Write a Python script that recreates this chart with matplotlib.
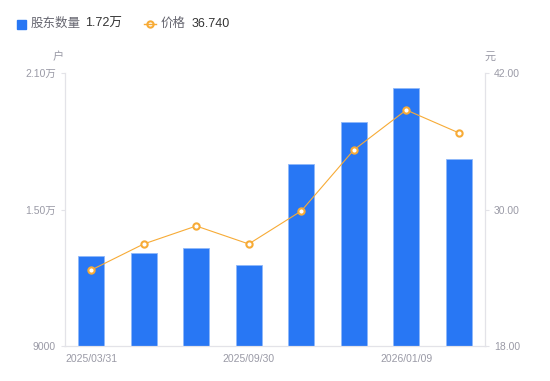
import matplotlib.pyplot as plt
from matplotlib.lines import Line2D

plt.rcParams["font.family"] = ["Liberation Sans", "Noto Sans CJK SC", "DejaVu Sans"]
plt.rcParams["axes.unicode_minus"] = False

# 数据
dates = ['2025/03/31', '2025/06/30', '2025/08/31', '2025/09/30',
         '2025/10/31', '2025/12/10', '2026/01/09', '2026/01/31']
holders = [12950, 13090, 13310, 12560, 17000, 18850, 20340, 17200]
price = [24.68, 26.97, 28.55, 26.97, 29.87, 35.23, 38.75, 36.74]
shown_ticks = [0, 3, 6]

blue = '#2877f4'
orange = '#f7ab36'
gray = '#9a9aa6'
axis_c = '#e3e3e8'

fig = plt.figure(figsize=(5.5, 3.81), dpi=100)
ax1 = fig.add_axes([65 / 550, 35 / 381, 420 / 550, 273 / 381])
ax2 = ax1.twinx()

x = list(range(len(dates)))
ax1.bar(x, holders, width=0.5, color=blue, edgecolor='#8fb8fa', linewidth=0.6, zorder=2)
ax1.set_xlim(-0.5, len(dates) - 0.5)
ax1.set_ylim(9000, 21000)
ax1.set_yticks([9000, 15000, 21000])
ax1.set_yticklabels(['9000', '1.50万', '2.10万'])
ax1.set_xticks(shown_ticks)
ax1.set_xticklabels([dates[i] for i in shown_ticks])

ax2.plot(x, price, color=orange, linewidth=0.8, marker='o', markersize=4.5,
         markerfacecolor='white', markeredgecolor=orange, markeredgewidth=1.5, zorder=3)
ax2.set_ylim(18, 42)
ax2.set_yticks([18, 30, 42])
ax2.set_yticklabels(['18.00', '30.00', '42.00'])

for ax in (ax1, ax2):
    for s in ax.spines.values():
        s.set_color(axis_c)
        s.set_linewidth(0.8)
    ax.spines['top'].set_visible(False)
    ax.tick_params(colors=axis_c, labelcolor=gray, labelsize=7.5, length=3, width=0.8)
ax1.tick_params(axis='x', length=0, pad=6)

fig.text(58 / 550, 1 - 57 / 381, '户', color=gray, fontsize=8, ha='center', va='center')
fig.text(490 / 550, 1 - 57 / 381, '元', color=gray, fontsize=8, ha='center', va='center')

# 图例
fig.patches.append(plt.Rectangle((17 / 550, 1 - 29 / 381), 9 / 550, 9 / 381,
                                 transform=fig.transFigure, color=blue))
fig.text(31 / 550, 1 - 24 / 381, '股东数量', color='#666670', fontsize=9, va='center')
fig.text(85 / 550, 1 - 24 / 381, '1.72万', color='#333333', fontsize=9, va='center')
fig.lines.append(Line2D([144 / 550, 156 / 550], [1 - 24 / 381, 1 - 24 / 381],
                        transform=fig.transFigure, color=orange, linewidth=1, zorder=5))
fig.lines.append(Line2D([150 / 550], [1 - 24 / 381], transform=fig.transFigure,
                        color=orange, marker='o', markersize=4.5, markerfacecolor='white',
                        markeredgewidth=1.5, linestyle='none'))
fig.text(161 / 550, 1 - 24 / 381, '价格', color='#666670', fontsize=9, va='center')
fig.text(192 / 550, 1 - 24 / 381, '36.740', color='#333333', fontsize=9, va='center')

fig.savefig('out.png', dpi=100)
